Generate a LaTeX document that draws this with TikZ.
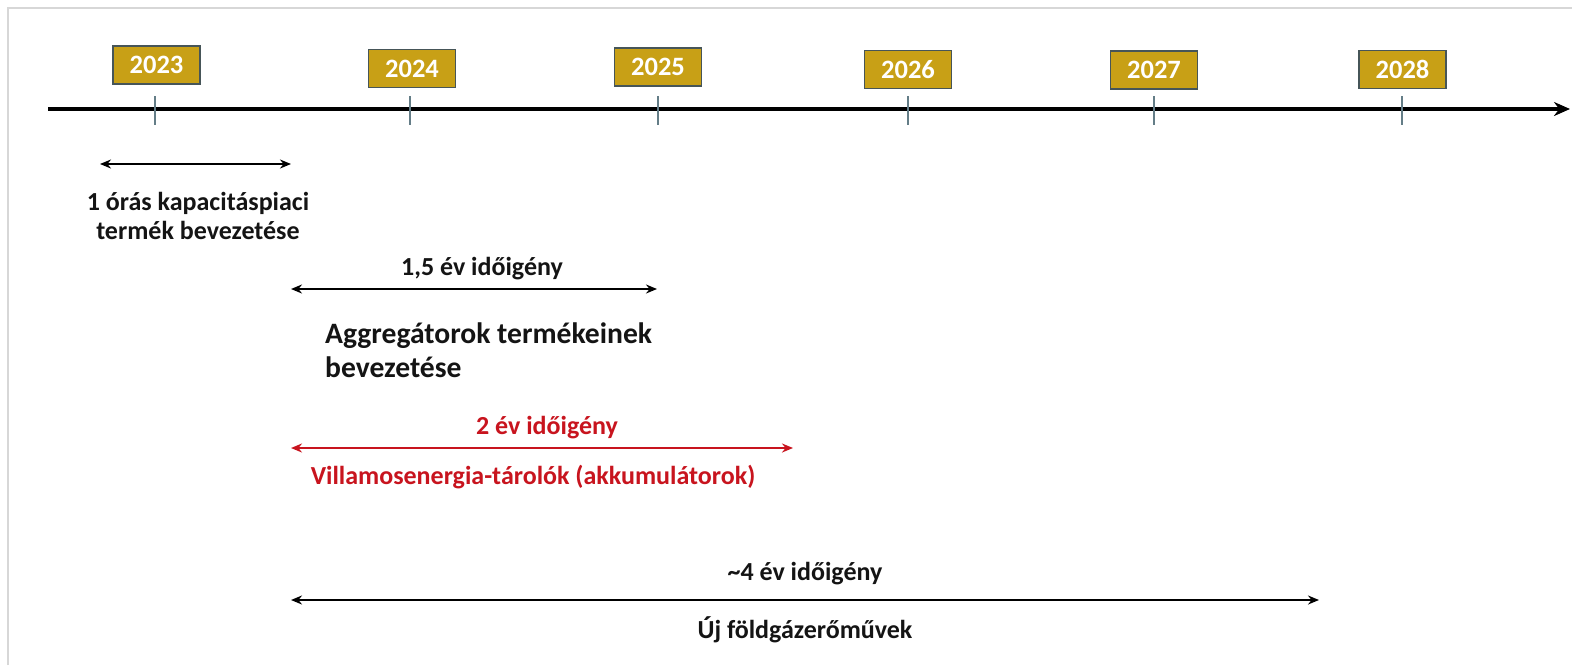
\documentclass[tikz,border=0pt]{standalone}
\usepackage{fontspec}
\setmainfont{Carlito}
\usetikzlibrary{arrows.meta}
\definecolor{gold}{RGB}{200,160,22}
\definecolor{boxedge}{RGB}{70,85,88}
\definecolor{tickc}{RGB}{100,125,135}
\definecolor{redc}{RGB}{200,20,30}
\definecolor{framec}{RGB}{215,215,215}
\definecolor{txt}{RGB}{20,20,20}
\tikzset{
  yearbox/.style={draw=boxedge, line width=1.2pt, fill=gold, text=white,
    minimum width=87pt, minimum height=38pt, inner sep=0pt,
    font=\fontsize{26.5}{28}\selectfont\bfseries},
  tickline/.style={draw=tickc, line width=2pt},
  axisline/.style={line width=3.5pt, -{Stealth[length=16pt,width=14pt]}},
  span/.style={line width=2pt, {Stealth[length=11pt,width=9pt]}-{Stealth[length=11pt,width=9pt]}},
  lbl/.style={anchor=base, inner sep=0pt, text=txt, font=\fontsize{26}{29}\selectfont\bfseries},
  big/.style={anchor=base west, inner sep=0pt, text=txt, font=\fontsize{29.6}{34}\selectfont\bfseries}
}
\begin{document}
\begin{tikzpicture}[x=1pt,y=-1pt]
\useasboundingbox (0,0) rectangle (1572,665);
\fill[white] (0,0) rectangle (1572,665);
% frame
\draw[framec, line width=2pt] (8,665) -- (8,8) -- (1572,8);
% axis
\coordinate (ax0) at (48,109);
\coordinate (ax1) at (1570,109);
\draw[axisline] (ax0) -- (ax1);
% ticks
\foreach \n/\x in {2023/155, 2024/410, 2025/658, 2026/908, 2027/1154, 2028/1402}{
  \coordinate (t\n a) at (\x,96);
  \coordinate (t\n b) at (\x,125);
  \draw[tickline] (t\n a) -- (t\n b);
}
% year boxes
\node[yearbox] (y2023) at (156.5,65) {2023};
\node[yearbox] (y2024) at (412,68.5) {2024};
\node[yearbox] (y2025) at (658,67) {2025};
\node[yearbox] (y2026) at (908,69.5) {2026};
\node[yearbox] (y2027) at (1154,70) {2027};
\node[yearbox] (y2028) at (1402.5,69.5) {2028};
% span 1
\coordinate (a1) at (100,164);
\coordinate (b1) at (291,164);
\draw[span] (a1) -- (b1);
\node[lbl] (l1) at (198,210) {1 órás kapacitáspiaci};
\node[lbl] (l1b) at (198,239) {termék bevezetése};
% span 2
\coordinate (a2) at (291,289);
\coordinate (b2) at (657,289);
\node[lbl] (l2) at (482,275) {1,5 év időigény};
\draw[span] (a2) -- (b2);
\node[big] (l2b) at (325,343) {Aggregátorok termékeinek};
\node[big] (l2c) at (325,377) {bevezetése};
% span 3 (red)
\coordinate (a3) at (291,448);
\coordinate (b3) at (793,448);
\node[lbl, text=redc] (l3) at (547,434) {2 év időigény};
\draw[span, redc] (a3) -- (b3);
\node[lbl, text=redc] (l3b) at (533,484) {Villamosenergia-tárolók (akkumulátorok)};
% span 4
\coordinate (a4) at (291,600);
\coordinate (b4) at (1319,600);
\node[lbl] (l4) at (805,580) {\textasciitilde 4 év időigény};
\draw[span] (a4) -- (b4);
\node[lbl] (l4b) at (805,638) {Új földgázerőművek};
\end{tikzpicture}
\end{document}
